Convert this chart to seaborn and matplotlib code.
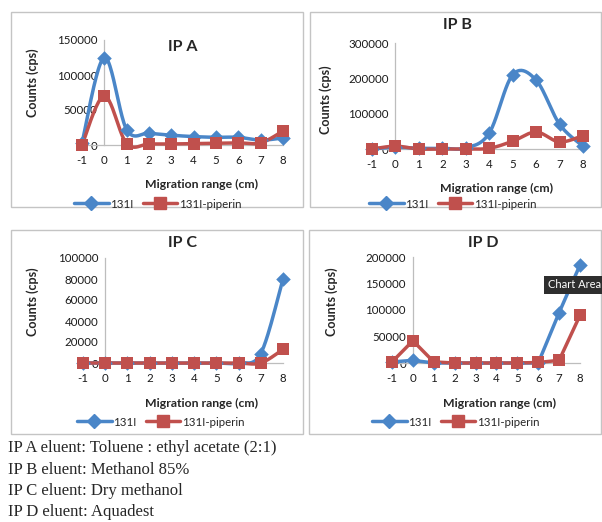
import numpy as np
import matplotlib
matplotlib.use("Agg")
import matplotlib.pyplot as plt
import seaborn as sns
from matplotlib.lines import Line2D
from matplotlib.patches import Rectangle

sns.set_style("white")
plt.rcParams['font.family'] = ['Lato', 'DejaVu Sans']

# ---------------- data ----------------
migration = [-1, 0, 1, 2, 3, 4, 5, 6, 7, 8]

ipa_131i = [3000, 125000, 22000, 17000, 14000, 12000, 11000, 11000, 7000, 10000]
ipa_pip = [0, 70000, 2000, 1500, 1500, 2000, 2500, 3000, 3000, 20000]

ipb_131i = [0, 5000, 2000, 2000, 3000, 45000, 210000, 195000, 70000, 8000]
ipb_pip = [0, 8000, 0, 0, 0, 2000, 22000, 48000, 20000, 38000]

ipc_131i = [0, 0, 0, 0, 0, 0, 0, 0, 9000, 80000]
ipc_pip = [0, 0, 0, 0, 0, 0, 0, 0, 0, 13000]

ipd_131i = [2000, 5000, 0, 0, 0, 0, 0, 0, 95000, 185000]
ipd_pip = [2000, 42000, 2000, 0, 0, 0, 0, 1000, 5000, 90000]

titles = ["IP A", "IP B", "IP C", "IP D"]
series_names = ["131I", "131I-piperin"]
yticks_list = [[0, 50000, 100000, 150000],
               [0, 100000, 200000, 300000],
               [0, 20000, 40000, 60000, 80000, 100000],
               [0, 50000, 100000, 150000, 200000]]
notes = ["IP A eluent: Toluene : ethyl acetate (2:1)",
         "IP B eluent: Methanol 85%",
         "IP C eluent: Dry methanol",
         "IP D eluent: Aquadest"]

BLUE = "#4A86C8"
RED = "#C0504D"

W, H = 602, 522
fig = plt.figure(figsize=(W / 100, H / 100), dpi=100)


def fx(px):
    return px / W


def fy(py):
    return 1 - py / H


def smooth(x, y, n=25):
    P = np.column_stack([np.asarray(x, float), np.asarray(y, float)])
    Pe = np.vstack([P[0], P, P[-1]])
    t = np.linspace(0, 1, n)[:, None]
    out = []
    for i in range(len(P) - 1):
        p0, p1, p2, p3 = Pe[i], Pe[i + 1], Pe[i + 2], Pe[i + 3]
        c1 = p1 + (p2 - p0) / 6
        c2 = p2 - (p3 - p1) / 6
        seg = (1 - t) ** 3 * p1 + 3 * (1 - t) ** 2 * t * c1 + 3 * (1 - t) * t ** 2 * c2 + t ** 3 * p2
        out.append(seg if i == 0 else seg[1:])
    return np.vstack(out)


panels = [
    dict(d=(ipa_131i, ipa_pip), x0=82, x8=283, y0=145, ytop=40, ymax=150000, smooth=True,
         box=(11, 12, 303, 207), title=(183, 47), ylab=(33, 83), xlab=(202, 184), leg=(74, 204)),
    dict(d=(ipb_131i, ipb_pip), x0=372, x8=583, y0=149, ytop=43, ymax=300000, smooth=True,
         box=(310, 12, 601, 207), title=(457, 25), ylab=(326, 100), xlab=(497, 188), leg=(369, 204)),
    dict(d=(ipc_131i, ipc_pip), x0=83, x8=283, y0=363, ytop=258, ymax=100000, smooth=True,
         box=(11, 230, 303, 434), title=(183, 243), ylab=(33, 302), xlab=(202, 403), leg=(77, 422)),
    dict(d=(ipd_131i, ipd_pip), x0=392, x8=580, y0=363, ytop=257, ymax=200000, smooth=False,
         box=(309, 230, 601, 434), title=(483, 243), ylab=(332, 302), xlab=(500, 403), leg=(372, 422)),
]

for k, p in enumerate(panels):
    bx0, by0, bx1, by1 = p['box']
    fig.patches.append(Rectangle((fx(bx0), fy(by1)), fx(bx1 - bx0), (by1 - by0) / H,
                                 transform=fig.transFigure, fill=False,
                                 edgecolor="#c4c4c4", lw=1.0, zorder=0))

    sx = (p['x8'] - p['x0']) / 9.0
    xl, xr = -1.45, 8.45
    left = p['x0'] + (xl + 1) * sx
    width = (xr - xl) * sx
    sy = (p['y0'] - p['ytop']) / p['ymax']
    ylo, yhi = -0.12 * p['ymax'], 1.08 * p['ymax']
    bottom_px = p['y0'] - ylo * sy
    top_px = p['y0'] - yhi * sy
    ax = fig.add_axes([fx(left), fy(bottom_px), width / W, (bottom_px - top_px) / H])
    ax.set_xlim(xl, xr)
    ax.set_ylim(ylo, yhi)
    ax.patch.set_alpha(0)

    for vals, col, mk, ms in [(p['d'][0], BLUE, 'D', 55), (p['d'][1], RED, 's', 66)]:
        if p['smooth']:
            c = smooth(migration, vals)
            sns.lineplot(x=c[:, 0], y=c[:, 1], sort=False, estimator=None, ax=ax,
                         color=col, lw=2.5, zorder=3)
        else:
            sns.lineplot(x=migration, y=vals, sort=False, estimator=None, ax=ax,
                         color=col, lw=2.5, zorder=3)
        sns.scatterplot(x=migration, y=vals, ax=ax, marker=mk, s=ms, color=col,
                        edgecolor=col, linewidth=0, zorder=4)

    for s in ['top', 'right']:
        ax.spines[s].set_visible(False)
    ax.spines['left'].set_position(('data', 0))
    ax.spines['bottom'].set_position(('data', 0))
    ax.spines['left'].set_bounds(0, p['ymax'])
    ax.spines['bottom'].set_bounds(-1, 8)
    for s in ['left', 'bottom']:
        ax.spines[s].set_color('#bdbdbd')
        ax.spines[s].set_linewidth(0.9)
    ax.set_xticks(migration)
    ax.set_xticklabels([str(v) for v in migration])
    ax.set_yticks(yticks_list[k])
    ax.set_yticklabels([str(v) for v in yticks_list[k]])
    ax.tick_params(axis='x', length=4, width=0.8, color='#bdbdbd', labelsize=8.3, pad=3,
                   labelcolor='#1a1a1a', direction='out')
    ax.tick_params(axis='y', length=3, width=0.8, color='#bdbdbd', labelsize=8.3, pad=2,
                   labelcolor='#1a1a1a', direction='out')
    ax.set_xlabel("")
    ax.set_ylabel("")
    if ax.get_legend():
        ax.get_legend().remove()

    fig.text(fx(p['title'][0]), fy(p['title'][1]), titles[k], ha='center', va='center',
             fontsize=11.5, fontweight='bold')
    fig.text(fx(p['ylab'][0]), fy(p['ylab'][1]), "Counts (cps)", ha='center', va='center',
             rotation=90, fontsize=9, fontweight='bold')
    fig.text(fx(p['xlab'][0]), fy(p['xlab'][1]), "Migration range (cm)", ha='center',
             va='center', fontsize=8.8, fontweight='bold')

    handles = [Line2D([], [], color=BLUE, lw=2.5, marker='D', markersize=7),
               Line2D([], [], color=RED, lw=2.5, marker='s', markersize=8)]
    fig.legend(handles, series_names, loc='center left',
               bbox_to_anchor=(fx(p['leg'][0]), fy(p['leg'][1])),
               ncol=2, frameon=False, fontsize=8.3, handlelength=3.0, handletextpad=0.15,
               columnspacing=0.8, borderpad=0, borderaxespad=0, numpoints=1)

# tooltip
fig.text(fx(548), fy(285), "Chart Area", ha='left', va='center', color='white', fontsize=8,
         bbox=dict(boxstyle='square,pad=0.35', facecolor='#2e2e2e', edgecolor='none'))

for i, line in enumerate(notes):
    fig.text(fx(8), fy(448 + 21.5 * i), line, ha='left', va='center',
             fontsize=12, family=['Liberation Serif', 'DejaVu Serif'])

fig.savefig("out.png", dpi=100)
